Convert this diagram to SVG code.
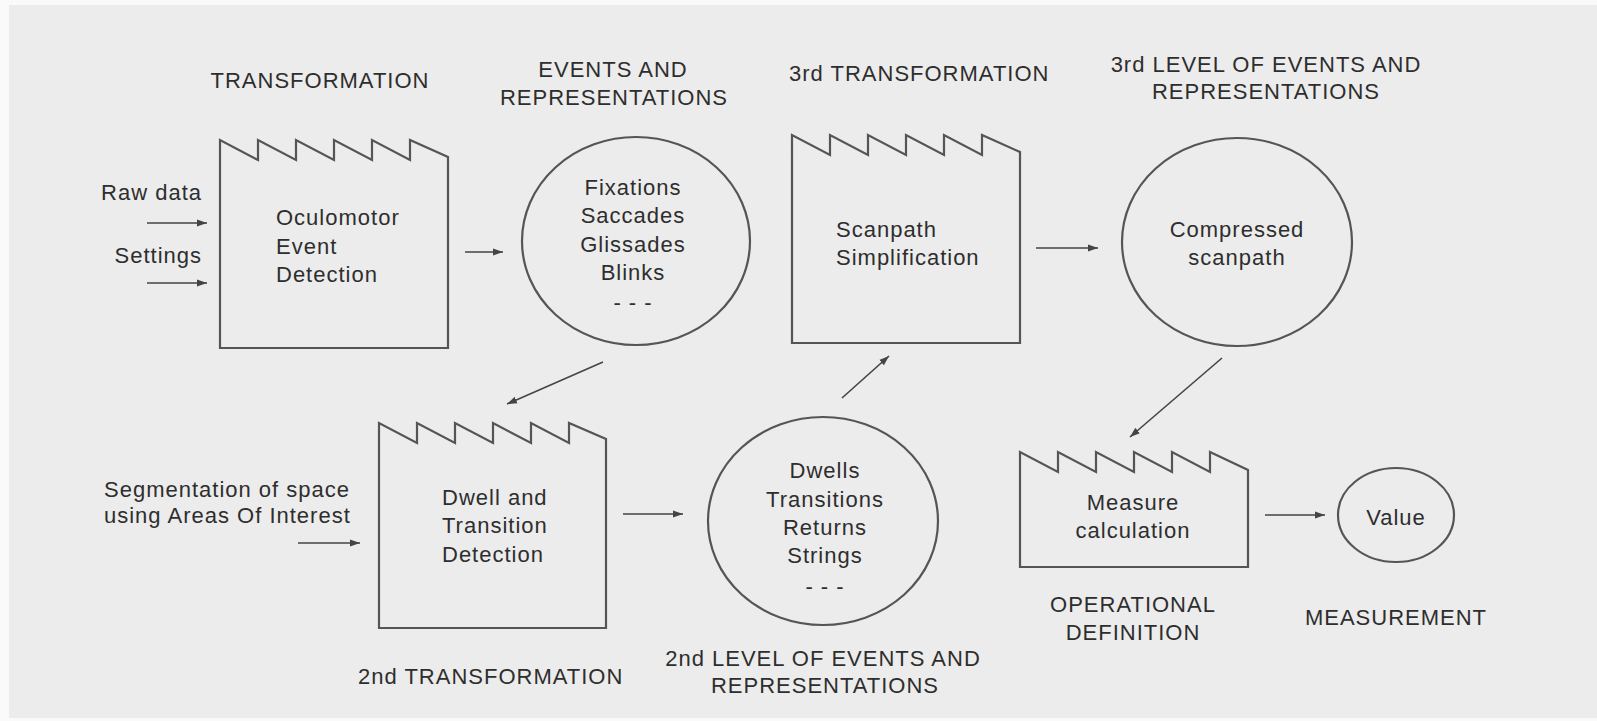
<svg xmlns="http://www.w3.org/2000/svg" width="1597" height="721" viewBox="0 0 1597 721">
<style>
.bg{fill:#ececec}
.shape{fill:none;stroke:#555;stroke-width:2.2;stroke-linejoin:miter}
.t{font-family:"Liberation Sans",Arial,sans-serif;font-size:22px;fill:#2e2e2e;letter-spacing:1px}
.m{text-anchor:middle}
.e{text-anchor:end}
.conn line{stroke:#444;stroke-width:1.6;marker-end:url(#ah)}
</style>
<defs>
<marker id="ah" markerUnits="userSpaceOnUse" markerWidth="11" markerHeight="8" refX="10" refY="4" orient="auto">
<path d="M0,0.5 L10,4 L0,7.5 Z" fill="#444"/>
</marker>
</defs>
<rect width="1597" height="721" fill="#fafafa"/>
<rect class="bg" x="9" y="5" width="1588" height="713"/>

<g id="label-transformation"><text class="t m" x="320" y="88">TRANSFORMATION</text></g>
<g id="label-events"><text class="t m" x="613" y="77">EVENTS AND</text><text class="t m" x="614" y="105">REPRESENTATIONS</text></g>
<g id="label-3rd-transformation"><text class="t" x="789" y="81">3rd TRANSFORMATION</text></g>
<g id="label-3rd-level"><text class="t m" x="1266" y="72">3rd LEVEL OF EVENTS AND</text><text class="t m" x="1266" y="99">REPRESENTATIONS</text></g>
<g id="label-raw"><text class="t e" x="202" y="200">Raw data</text><text class="t e" x="202" y="263">Settings</text></g>
<g id="label-segmentation"><text class="t" x="104" y="497">Segmentation of space</text><text class="t" x="104" y="523">using Areas Of Interest</text></g>
<g id="label-2nd-transformation"><text class="t" x="358" y="684">2nd TRANSFORMATION</text></g>
<g id="label-2nd-level"><text class="t m" x="823" y="666">2nd LEVEL OF EVENTS AND</text><text class="t m" x="825" y="693">REPRESENTATIONS</text></g>
<g id="label-operational"><text class="t m" x="1133" y="612">OPERATIONAL</text><text class="t m" x="1133" y="640">DEFINITION</text></g>
<g id="label-measurement"><text class="t m" x="1396" y="625">MEASUREMENT</text></g>

<g id="factory-oculomotor">
<path class="shape" d="M220,348 L220,140 L258,160 L258,140 L296,160 L296,140 L334,160 L334,140 L372,160 L372,140 L410,160 L410,140 L448,157 L448,348 Z"/>
<text class="t" x="276" y="225">Oculomotor</text><text class="t" x="276" y="254">Event</text><text class="t" x="276" y="282">Detection</text>
</g>
<g id="circle-events">
<ellipse class="shape" cx="636" cy="241" rx="114" ry="104"/>
<text class="t m" x="633" y="195">Fixations</text><text class="t m" x="633" y="223">Saccades</text><text class="t m" x="633" y="252">Glissades</text><text class="t m" x="633" y="280">Blinks</text><text class="t m" x="633" y="310">- - -</text>
</g>
<g id="factory-scanpath">
<path class="shape" d="M792,343 L792,135 L830,155 L830,135 L868,155 L868,135 L906,155 L906,135 L944,155 L944,135 L982,155 L982,135 L1020,152 L1020,343 Z"/>
<text class="t" x="836" y="237">Scanpath</text><text class="t" x="836" y="265">Simplification</text>
</g>
<g id="circle-compressed">
<ellipse class="shape" cx="1237" cy="242" rx="115" ry="104"/>
<text class="t m" x="1237" y="237">Compressed</text><text class="t m" x="1237" y="265">scanpath</text>
</g>
<g id="factory-dwell">
<path class="shape" d="M379,628 L379,423 L417,443 L417,423 L455,443 L455,423 L493,443 L493,423 L531,443 L531,423 L569,443 L569,423 L606,439 L606,628 Z"/>
<text class="t" x="442" y="505">Dwell and</text><text class="t" x="442" y="533">Transition</text><text class="t" x="442" y="562">Detection</text>
</g>
<g id="circle-dwells">
<ellipse class="shape" cx="823" cy="521" rx="115" ry="104"/>
<text class="t m" x="825" y="478">Dwells</text><text class="t m" x="825" y="507">Transitions</text><text class="t m" x="825" y="535">Returns</text><text class="t m" x="825" y="563">Strings</text><text class="t m" x="825" y="594">- - -</text>
</g>
<g id="factory-measure">
<path class="shape" d="M1020,567 L1020,452 L1058,472 L1058,452 L1096,472 L1096,452 L1134,472 L1134,452 L1172,472 L1172,452 L1210,472 L1210,452 L1248,470 L1248,567 Z"/>
<text class="t m" x="1133" y="510">Measure</text><text class="t m" x="1133" y="538">calculation</text>
</g>
<g id="circle-value">
<ellipse class="shape" cx="1396" cy="515" rx="58" ry="47"/>
<text class="t m" x="1396" y="525">Value</text>
</g>

<g id="connectors" class="conn">
<line x1="147" y1="223" x2="207" y2="223"/>
<line x1="147" y1="283" x2="207" y2="283"/>
<line x1="465" y1="252" x2="503" y2="252"/>
<line x1="603" y1="362" x2="507" y2="404"/>
<line x1="298" y1="543" x2="360" y2="543"/>
<line x1="623" y1="514" x2="683" y2="514"/>
<line x1="842" y1="398" x2="889" y2="356"/>
<line x1="1036" y1="248" x2="1098" y2="248"/>
<line x1="1222" y1="358" x2="1130" y2="437"/>
<line x1="1265" y1="515" x2="1325" y2="515"/>
</g>
</svg>
